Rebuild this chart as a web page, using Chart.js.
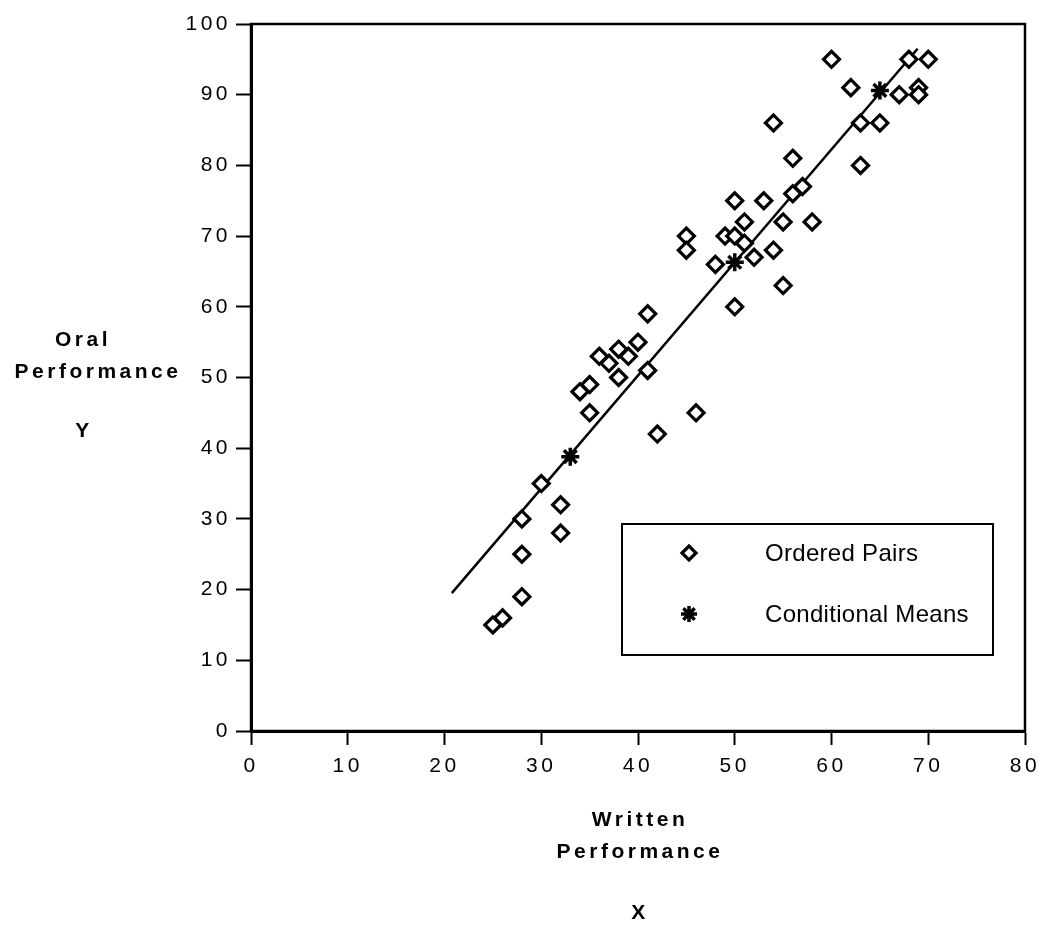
<!DOCTYPE html>
<html>
<head>
<meta charset="utf-8">
<title>Oral vs Written Performance</title>
<script src="https://cdn.jsdelivr.net/npm/chart.js@4.4.0/dist/chart.umd.min.js"></script>
<style>
    html, body { margin: 0; padding: 0; background: #fff; }
    #wrap { position: relative; width: 1044px; height: 925px; }
</style>
</head>
<body>
<div id="wrap"><canvas id="scatterChart" width="1044" height="925"></canvas></div>
<script>
// ordered pairs (written, oral)
const writtenScores = [25, 26, 28, 28, 28, 30, 32, 32, 34, 35, 35, 36, 37, 38, 38, 39, 40, 41, 41, 42,
    45, 45, 46, 48, 49, 50, 50, 50, 51, 51, 52, 53, 54, 54, 55, 55, 56, 56, 57, 58,
    60, 62, 63, 63, 65, 67, 68, 69, 69, 70];
const oralScores = [15, 16, 19, 25, 30, 35, 28, 32, 48, 49, 45, 53, 52, 54, 50, 53, 55, 59, 51, 42,
    70, 68, 45, 66, 70, 75, 70, 60, 72, 69, 67, 75, 86, 68, 72, 63, 81, 76, 77, 72,
    95, 91, 86, 80, 86, 90, 95, 91, 90, 95];

// conditional means
const meanWritten = [33, 50, 65];
const meanOral = [38.8, 66.3, 90.6];

// regression line end points
const fitWritten = [20.75, 68.9];
const fitOral = [19.5, 96.5];

const legendLabels = ['Ordered Pairs', 'Conditional Means'];
const yTitleLines = ['Oral', 'Performance', 'Y'];
const xTitleLines = ['Written', 'Performance', 'X'];

const FONT = "'Liberation Sans', Arial, Helvetica, sans-serif";

const toPoints = (xs, ys) => xs.map((x, i) => ({ x: x, y: ys[i] }));

const framePlugin = {
    id: 'frameAndText',
    beforeDraw(chart) {
        chart.ctx.letterSpacing = '3.5px';
    },
    afterDatasetsDraw(chart) {
        const ctx = chart.ctx;
        const area = chart.chartArea;
        const ds = chart.data.datasets;
        ctx.save();
        ctx.letterSpacing = '0px';

        // box round the plot
        ctx.strokeStyle = '#000';
        ctx.lineWidth = 2.5;
        ctx.strokeRect(area.left, area.top, area.right - area.left, area.bottom - area.top);

        // legend
        const bx = area.left + 371, by = area.top + 500;
        ctx.lineWidth = 2;
        ctx.strokeRect(bx, by, 371, 131);
        ctx.fillStyle = '#000';
        ctx.font = '24px ' + FONT;
        ctx.textBaseline = 'middle';
        ctx.textAlign = 'left';
        ctx.letterSpacing = '0.3px';
        [0, 1].forEach(i => {
            const d = ds[i];
            const y = by + 29 + i * 61;
            ctx.save();
            ctx.strokeStyle = d.borderColor;
            ctx.fillStyle = d.backgroundColor;
            ctx.lineWidth = d.borderWidth;
            Chart.helpers.drawPoint(ctx, { pointStyle: d.pointStyle, radius: d.pointRadius - 1, rotation: 0, borderWidth: d.borderWidth }, bx + 67, y);
            ctx.restore();
            ctx.fillStyle = '#000';
            ctx.fillText(legendLabels[i], bx + 143, y + 1);
        });

        // axis titles
        ctx.font = 'bold 21px ' + FONT;
        ctx.textAlign = 'center';
        ctx.letterSpacing = '3.5px';
        const yTitleRows = [[83, 340], [98, 372], [84, 431]];
        yTitleLines.forEach((t, i) => ctx.fillText(t, yTitleRows[i][0], yTitleRows[i][1]));
        const cx = (area.left + area.right) / 2 + 2;
        const xTitleRows = [820, 852, 913];
        xTitleLines.forEach((t, i) => ctx.fillText(t, cx, xTitleRows[i]));
        ctx.restore();
    }
};

class PerformanceChart {
    constructor(canvasId) {
        this.canvas = document.getElementById(canvasId);
        this.chart = null;
        this.init();
    }

    init() {
        this.chart = new Chart(this.canvas, {
            type: 'scatter',
            data: {
                datasets: [
                    {
                        label: legendLabels[0],
                        data: toPoints(writtenScores, oralScores),
                        pointStyle: 'rectRot',
                        pointRadius: 8,
                        borderWidth: 3.2,
                        borderColor: '#000',
                        backgroundColor: '#fff'
                    },
                    {
                        label: legendLabels[1],
                        data: toPoints(meanWritten, meanOral),
                        pointStyle: 'star',
                        pointRadius: 9,
                        borderWidth: 3.5,
                        borderColor: '#000',
                        backgroundColor: '#000'
                    },
                    {
                        type: 'line',
                        label: 'fit',
                        data: toPoints(fitWritten, fitOral),
                        borderColor: '#000',
                        borderWidth: 2.5,
                        pointRadius: 0,
                        fill: false,
                        order: 5
                    }
                ]
            },
            options: {
                responsive: false,
                animation: false,
                layout: { padding: { top: 24, right: 19, left: 0, bottom: 0 } },
                plugins: {
                    legend: { display: false },
                    tooltip: { enabled: false }
                },
                scales: {
                    x: {
                        type: 'linear',
                        min: 0,
                        max: 80,
                        ticks: { stepSize: 10, color: '#000', padding: 9, font: { family: FONT, size: 21 }, maxRotation: 0 },
                        grid: { drawOnChartArea: false, drawTicks: true, tickLength: 14, tickWidth: 2, color: '#000' },
                        border: { display: true, color: '#000', width: 3 },
                        afterFit: (scale) => {
                            scale.height = 194;
                            scale.paddingLeft = 0;
                            scale.paddingRight = 0;
                        }
                    },
                    y: {
                        type: 'linear',
                        min: 0,
                        max: 100,
                        ticks: { stepSize: 10, color: '#000', padding: 5, font: { family: FONT, size: 21 } },
                        grid: { drawOnChartArea: false, drawTicks: true, tickLength: 15, tickWidth: 2, color: '#000' },
                        border: { display: true, color: '#000', width: 3 },
                        afterFit: (scale) => {
                            scale.width = 251;
                            scale.paddingTop = 0;
                            scale.paddingBottom = 0;
                        }
                    }
                }
            },
            plugins: [framePlugin]
        });
    }
}

document.addEventListener('DOMContentLoaded', () => {
    new PerformanceChart('scatterChart');
});
</script>
</body>
</html>
